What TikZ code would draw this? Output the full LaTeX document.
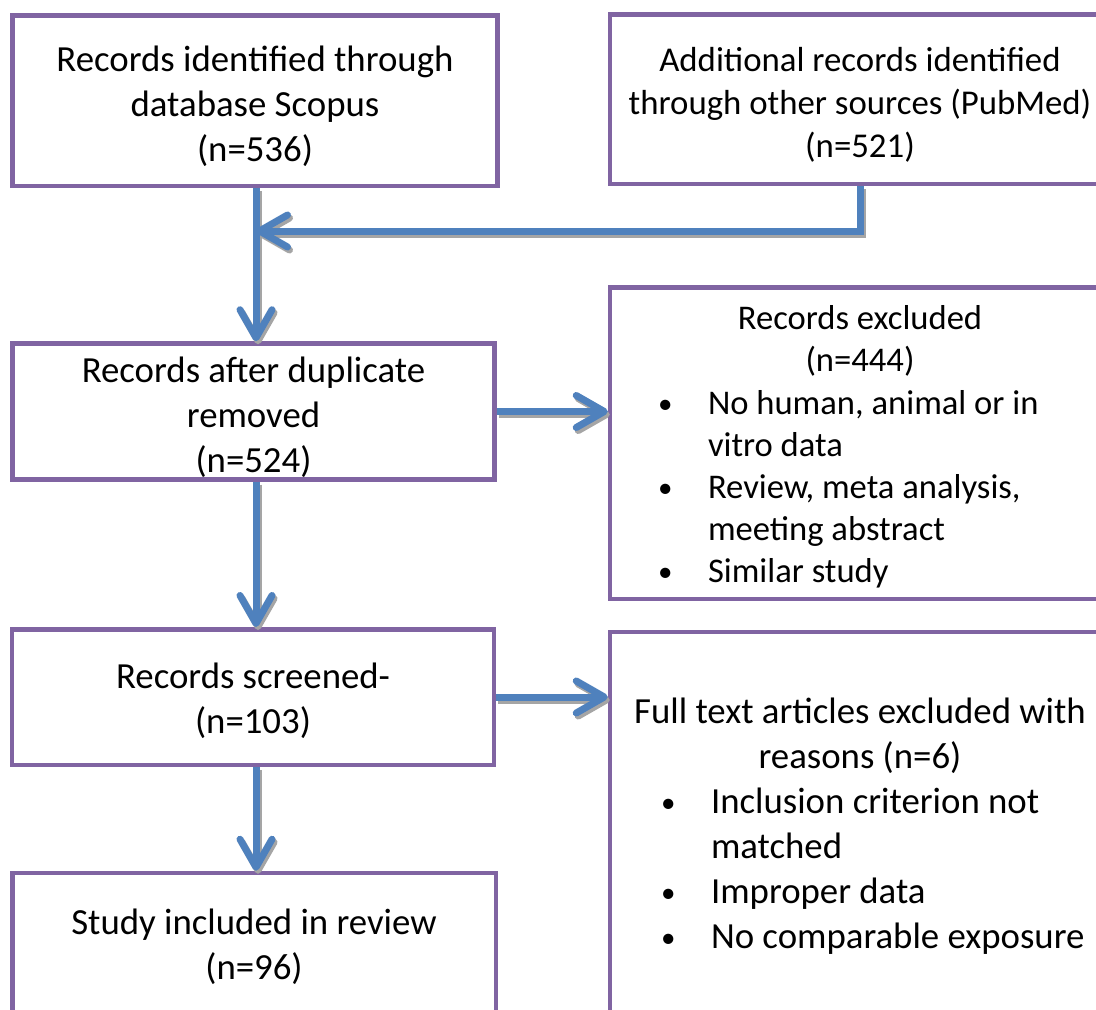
\documentclass[tikz,border=0pt]{standalone}
\usepackage{fontspec}
\setmainfont{Carlito}
\usetikzlibrary{arrows.meta}
\definecolor{boxpurple}{HTML}{8064A2}
\definecolor{flowblue}{HTML}{4F81BD}
\definecolor{flowshade}{HTML}{A5A5A5}
% invisible strut that sets the height of a box's first text line
\newcommand\firstline[1]{\rule{0pt}{#1}}
% bullet item with hanging indent for the exclusion lists
\newlength\bulletpos
\newlength\bullettext
\newcommand\bitem[1]{\par\hangindent=\bullettext\hangafter=1\noindent
  \hspace*{\bulletpos}\makebox[\dimexpr\bullettext-\bulletpos\relax][l]{\raisebox{1pt}{\fontsize{29}{29}\selectfont\textbullet}}#1}
% plain ragged-right setting with the font's own word spaces
\newcommand\listsetup{\spaceskip=0pt\xspaceskip=0pt\raggedright}
% all connectors of the chart, drawn with the style given
\newcommand\flowlinks[1]{%
  \draw[#1] (scopus.south -| join) -- (dedup.north -| join);
  \draw[#1] (pubmed.south) |- (join);
  \draw[#1] (dedup.east) -- (dedup.east -| excl.west);
  \draw[#1] (dedup.south -| join) -- (screen.north -| join);
  \draw[#1] (screen.east) -- (screen.east -| fulltext.west);
  \draw[#1] (screen.south -| join) -- (incl.north -| join);}
\begin{document}
\begin{tikzpicture}[x=1pt,y=-1pt,
  box/.style={draw=boxpurple, line width=4.5pt, fill=white, inner sep=0pt,
    align=center, font=\fontsize{36.8}{45}\selectfont},
  sidebox/.style={box, minimum width=500, text width=480, align=left},
  link/.style={line width=7pt, -{Straight Barb[length=28pt,width=32pt,round]}},
  conn/.style={link, draw=flowblue},
  connshade/.style={link, draw=flowshade}]
\fill[white] (0,0) rectangle (1096,1010);
\useasboundingbox (0,0) rectangle (1096,1010);

% left column
\node[box, minimum width=485, minimum height=170.5] (scopus) at (255,100.75)
  {\firstline{36.5pt}Records identified through\\database Scopus\\(n=536)};
\node[box, minimum width=482, minimum height=136] (dedup) at (253.5,411.5)
  {\firstline{37pt}Records after duplicate\\removed\\(n=524)};
\node[box, minimum width=482, minimum height=135.5] (screen) at (253,697)
  {\firstline{33pt}Records screened-\\(n=103)};
\node[box, minimum width=483.5, minimum height=142] (incl) at (254,944)
  {\firstline{31pt}Study included in review\\(n=96)};

% right column
\node[box, minimum width=500, minimum height=169.5,
  font=\fontsize{34.8}{43}\selectfont] (pubmed) at (860,99.25)
  {\firstline{35pt}Additional records identified\\through other sources (PubMed)\\(n=521)};
\node[sidebox, minimum height=311.5, font=\fontsize{34.6}{42.2}\selectfont]
  (excl) at (860,443.25)
  {\listsetup\setlength\bulletpos{38pt}\setlength\bullettext{88pt}%
   {\centering\firstline{31.5pt}Records excluded\\(n=444)\par}%
   \bitem{No human, animal or in\newline vitro data}%
   \bitem{Review, meta analysis,\newline meeting abstract}%
   \bitem{Similar study}};
\node[sidebox, minimum height=383] (fulltext) at (860,823.5)
  {\listsetup\setlength\bulletpos{41pt}\setlength\bullettext{91pt}%
   {\centering\firstline{31pt}Full text articles excluded with\\reasons (n=6)\par}%
   \bitem{Inclusion criterion not\newline matched}%
   \bitem{Improper data}%
   \bitem{No comparable exposure}};

% connectors: grey drop shadow first, blue arrow on top
\coordinate (join) at (256,231);
\begin{scope}[transform canvas={shift={(2pt,-3pt)}}]
  \flowlinks{connshade}
\end{scope}
\flowlinks{conn}
\end{tikzpicture}
\end{document}
